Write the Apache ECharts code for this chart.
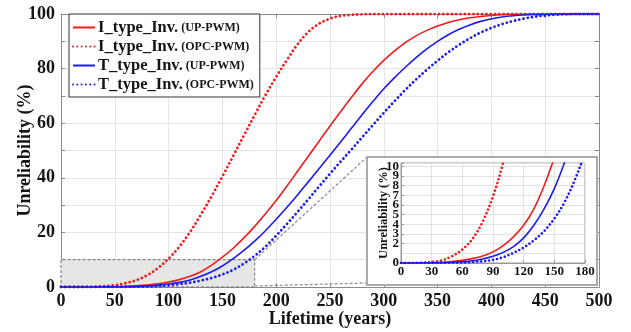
<!DOCTYPE html>
<html>
<head>
<meta charset="utf-8">
<script src="https://cdn.jsdelivr.net/npm/echarts@6/dist/echarts.min.js"></script>
<style>
  html, body { margin: 0; padding: 0; background: #fff; }
  #chart { width: 631px; height: 332px; }
</style>
</head>
<body>
<div id="chart"></div>
<script>
// ---- data ----
const years = [0,10,20,30,40,50,60,70,80,90,100,110,120,130,140,150,160,170,180,190,200,
  210,220,230,240,250,260,270,280,290,300,310,320,330,340,350,360,370,380,390,400,
  410,420,430,440,450,460,470,480,490,500];

// I_type_Inv. (UP-PWM)  - red solid
const iUp = [0,0,0.01,0.03,0.07,0.15,0.27,0.45,0.72,1.15,1.8,2.7,3.9,5.6,8.0,10.9,14.2,18,22.2,26.8,31.7,
  37,42.5,48,53.5,59,64.3,69.5,74.5,79,83,86.5,89.5,92,94,95.6,96.9,97.9,98.6,99.1,99.45,
  99.7,99.85,99.93,100,100,100,100,100,100,100];
// I_type_Inv. (OPC-PWM) - red dotted
const iOpc = [0,0,0.02,0.1,0.28,0.7,1.4,2.5,4.3,6.9,10.4,14.8,20.2,26.5,33.3,40.5,48,55.5,63,70.3,77,
  83.2,89,93.5,96.5,98.3,99.3,99.7,99.9,100,100,100,100,100,100,100,100,100,100,100,100,
  100,100,100,100,100,100,100,100,100,100];
// T_type_Inv. (UP-PWM)  - blue solid
const tUp = [0,0,0,0.01,0.03,0.07,0.13,0.23,0.42,0.7,1.1,1.7,2.6,3.9,5.6,7.7,10.4,13.4,16.8,20.6,24.8,
  29.2,33.8,38.6,43.4,48.3,53.2,58.2,63.2,68,72.6,76.7,80.5,84,87.2,90,92.4,94.4,96,97.3,98.2,
  98.9,99.35,99.65,99.82,99.92,100,100,100,100,100];
// T_type_Inv. (OPC-PWM) - blue dotted
const tOpc = [0,0,0,0,0.01,0.03,0.05,0.1,0.18,0.33,0.6,1.05,1.6,2.35,3.3,4.6,6.3,8.6,11.4,14.8,18.8,
  23.1,27.6,32.2,36.9,41.5,46,50.4,54.9,59.4,63.8,68.1,72.2,76,79.6,82.9,86,88.7,91.1,93.2,94.9,
  96.3,97.4,98.3,99,99.45,99.75,99.9,100,100,100];

const seriesNames = ['I_type_Inv. (UP-PWM)', 'I_type_Inv. (OPC-PWM)', 'T_type_Inv. (UP-PWM)', 'T_type_Inv. (OPC-PWM)'];
const seriesValues = [iUp, iOpc, tUp, tOpc];

// main axes ticks
const xMain = { min: 0, max: 500, step: 50 };
const yMain = { min: 0, max: 100, step: 10, labelStep: 20 };
// zoomed region (inset)
const zoomYears = { min: 0, max: 180, step: 30 };
const zoomPct = { min: 0, max: 10, step: 1 };

// ---- styles ----
const RED = '#f01c1c', BLUE = '#1c1cf0';
const colors = [RED, RED, BLUE, BLUE];
const dotted = [false, true, false, true];
const FONT = '"Liberation Serif", "Times New Roman", serif';
const TXT = '#151515';
const AXIS = '#8a8a8a';
const GRIDC = '#e4e4e4';

function pairs(vals) { return years.map((y, i) => [y, vals[i]]); }

function lineStyleFor(i, inset) {
  return dotted[i]
    ? { color: colors[i], width: inset ? 2.6 : 2.8, type: [0.01, inset ? 4.0 : 4.3], cap: 'round' }
    : { color: colors[i], width: 1.6, type: 'solid' };
}

const mainSeries = seriesNames.map((name, i) => ({
  name, type: 'line', xAxisIndex: 0, yAxisIndex: 0,
  data: pairs(seriesValues[i]), symbol: 'none', showSymbol: false, smooth: 0.35,
  lineStyle: lineStyleFor(i, false), itemStyle: { color: colors[i] }, z: 3,
  markArea: i === 0 ? {
    silent: true,
    itemStyle: { color: '#e6e6e6', borderColor: '#6e6e6e', borderWidth: 1, borderType: [3, 2] },
    data: [[{ coord: [zoomYears.min, zoomPct.min] }, { coord: [zoomYears.max, zoomPct.max] }]]
  } : undefined
}));

const insetSeries = seriesNames.map((name, i) => ({
  name: name + ' ', type: 'line', xAxisIndex: 2, yAxisIndex: 2,
  data: pairs(seriesValues[i]), symbol: 'none', showSymbol: false, smooth: 0.35,
  lineStyle: lineStyleFor(i, true), itemStyle: { color: colors[i] }, z: 9, clip: true,
  markLine: i === 0 ? {
    silent: true, symbol: 'none', label: { show: false },
    lineStyle: { color: '#777', type: [3, 2], width: 1 },
    data: [{ yAxis: zoomPct.max }]
  } : undefined
}));

const insetBox = { x: 367, y: 157, w: 230, h: 128 };

const chart = echarts.init(document.getElementById('chart'), null, { renderer: 'canvas' });

const option = {
  animation: false,
  backgroundColor: '#fff',
  textStyle: { fontFamily: FONT },
  legend: {
    data: seriesNames,
    orient: 'vertical', left: 69, top: 14,
    padding: [5, 6, 4, 3], itemGap: 2,
    itemWidth: 22, itemHeight: 15,
    itemStyle: { opacity: 0 },
    backgroundColor: '#fff', borderColor: '#333', borderWidth: 1, borderRadius: 0,
    formatter: n => { const k = n.indexOf(' '); return '{a|' + n.slice(0, k) + '} {b|' + n.slice(k + 1) + '}'; },
    textStyle: {
      color: TXT, padding: [0, 0, 0, -2],
      rich: {
        a: { fontFamily: FONT, fontWeight: 'bold', fontSize: 16.5, color: TXT, lineHeight: 17 },
        b: { fontFamily: FONT, fontWeight: 'bold', fontSize: 12, color: TXT, lineHeight: 17 }
      }
    },
    z: 20
  },
  grid: [
    { left: 61, right: 32, top: 14, bottom: 45, show: false, containLabel: false, outerBoundsMode: 'none' },
    { left: 401, top: 163, width: 184, height: 100, show: true, backgroundColor: '#fff',
      borderColor: '#9a9a9a', borderWidth: 1, z: 6, containLabel: false, outerBoundsMode: 'none' }
  ],
  xAxis: [
    { type: 'value', gridIndex: 0, min: xMain.min, max: xMain.max, interval: xMain.step,
      name: 'Lifetime (years)', nameLocation: 'middle', nameGap: 23, nameMoveOverlap: false,
      nameTextStyle: { fontFamily: FONT, fontWeight: 'bold', fontSize: 18, color: TXT },
      axisLine: { show: true, lineStyle: { color: AXIS, width: 1 } },
      axisTick: { show: true, inside: true, length: 4, lineStyle: { color: AXIS } },
      axisLabel: { fontFamily: FONT, fontWeight: 'bold', fontSize: 18, color: TXT, margin: 5 },
      splitLine: { show: true, lineStyle: { color: GRIDC, width: 1 } } },
    { type: 'value', gridIndex: 0, position: 'top', min: xMain.min, max: xMain.max, interval: xMain.step,
      axisLine: { show: true, onZero: false, lineStyle: { color: AXIS, width: 1 } },
      axisTick: { show: true, inside: true, length: 4, lineStyle: { color: AXIS } },
      axisLabel: { show: false }, splitLine: { show: false } },
    { type: 'value', gridIndex: 1, min: zoomYears.min, max: zoomYears.max, interval: zoomYears.step,
      axisLine: { show: true, lineStyle: { color: '#9a9a9a', width: 1 } },
      axisTick: { show: true, inside: true, length: 3, lineStyle: { color: '#9a9a9a' } },
      axisLabel: { fontFamily: FONT, fontWeight: 'bold', fontSize: 13, color: TXT, margin: 2,
        showMinLabel: true, showMaxLabel: true },
      splitLine: { show: true, lineStyle: { color: '#e2e2e2' } }, z: 7 }
  ],
  yAxis: [
    { type: 'value', gridIndex: 0, min: yMain.min, max: yMain.max, interval: yMain.step,
      name: 'Unreliability (%)', nameLocation: 'middle', nameGap: 27, nameMoveOverlap: false,
      nameTextStyle: { fontFamily: FONT, fontWeight: 'bold', fontSize: 18, color: TXT },
      axisLine: { show: true, lineStyle: { color: AXIS, width: 1 } },
      axisTick: { show: true, inside: true, length: 4, lineStyle: { color: AXIS } },
      axisLabel: { fontFamily: FONT, fontWeight: 'bold', fontSize: 18, color: TXT, margin: 6,
        formatter: v => (v % yMain.labelStep === 0 ? String(v) : '') },
      splitLine: { show: true, lineStyle: { color: GRIDC, width: 1 } } },
    { type: 'value', gridIndex: 0, position: 'right', min: yMain.min, max: yMain.max, interval: yMain.step,
      axisLine: { show: true, onZero: false, lineStyle: { color: AXIS, width: 1 } },
      axisTick: { show: true, inside: true, length: 4, lineStyle: { color: AXIS } },
      axisLabel: { show: false }, splitLine: { show: false } },
    { type: 'value', gridIndex: 1, min: zoomPct.min, max: 10.35, interval: zoomPct.step,
      name: 'Unreliability (%)', nameLocation: 'middle', nameGap: 11, nameMoveOverlap: false,
      nameTextStyle: { fontFamily: FONT, fontWeight: 'bold', fontSize: 12.5, color: TXT },
      axisLine: { show: true, lineStyle: { color: '#9a9a9a', width: 1 } },
      axisTick: { show: true, inside: true, length: 3, lineStyle: { color: '#9a9a9a' } },
      axisLabel: { fontFamily: FONT, fontWeight: 'bold', fontSize: 13, color: TXT, margin: 2, lineHeight: 10,
        showMinLabel: true, hideOverlap: false,
        formatter: v => (Number.isInteger(v) ? String(v) : '') },
      splitLine: { show: true, lineStyle: { color: '#e2e2e2' } }, z: 7 }
  ],
  series: mainSeries.concat(insetSeries),
  graphic: [
    { type: 'rect', id: 'insetBox', z: 5, silent: true,
      shape: { x: insetBox.x, y: insetBox.y, width: insetBox.w, height: insetBox.h },
      style: { fill: '#fff', stroke: '#ababab', lineWidth: 2 } }
  ]
};

chart.setOption(option);

// connector lines from the zoom box corners in the main plot to the inset box
const pTop = chart.convertToPixel({ xAxisIndex: 0, yAxisIndex: 0 }, [zoomYears.max, zoomPct.max]);
const pBot = chart.convertToPixel({ xAxisIndex: 0, yAxisIndex: 0 }, [zoomYears.max, zoomPct.min]);
chart.setOption({
  graphic: [
    { type: 'line', id: 'conn1', z: 4, silent: true,
      shape: { x1: pTop[0], y1: pTop[1], x2: insetBox.x, y2: insetBox.y },
      style: { stroke: '#8a8a8a', lineWidth: 1.2, lineDash: [3, 2] } },
    { type: 'line', id: 'conn2', z: 4, silent: true,
      shape: { x1: pBot[0], y1: pBot[1] - 1, x2: insetBox.x, y2: insetBox.y + insetBox.h - 2 },
      style: { stroke: '#8a8a8a', lineWidth: 1.2, lineDash: [3, 2] } }
  ]
});
</script>
</body>
</html>
